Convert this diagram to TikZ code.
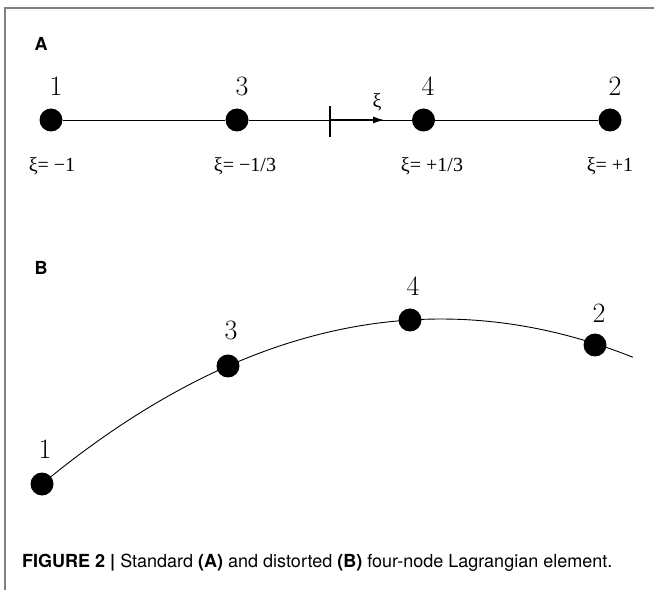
\documentclass[tikz,border=0pt]{standalone}
\usepackage{fontspec}
\setsansfont{TeX Gyre Heros}
\newfontfamily\tnr{Liberation Serif}
\usetikzlibrary{arrows.meta}
\begin{document}
\begin{tikzpicture}[x=1pt,y=1pt,
  dot/.style={circle,fill=black,inner sep=0pt,minimum size=23pt},
  num/.style={font=\fontsize{28}{30}\selectfont},
  xilab/.style={font=\fontsize{20}{22}\selectfont\tnr,anchor=base},
  panel/.style={font=\fontsize{18}{20}\selectfont\sffamily\bfseries},
  ln/.style={line width=0.9pt}]
\useasboundingbox (0,0) rectangle (654,590);
% frame
\draw[line width=1.3pt,gray] (5,0) -- (5,582) -- (654,582);
% panel A
\node[panel] (labA) at (41,546) {A};
\node[dot] (a1) at (51,470) {};
\node[dot] (a3) at (237,470) {};
\node[dot] (a4) at (423.5,470) {};
\node[dot] (a2) at (610,470) {};
\draw[ln] (a1) -- (a3) -- (a4) -- (a2);
\node[num] (t1) at (56,504) {1};
\node[num] (t3) at (242,504) {3};
\node[num] (t4) at (428,504) {4};
\node[num] (t2) at (615,504) {2};
\coordinate (tickT) at (330,484);
\coordinate (tickB) at (330,453);
\coordinate (orig) at (330,470);
\coordinate (tip) at (384,470);
\draw[line width=1.1pt] (tickT) -- (tickB);
\draw[line width=1.1pt,-{Latex[length=11pt,width=7pt]}] (orig) -- (tip);
\node[font=\fontsize{20}{22}\selectfont\tnr,anchor=base] (xi) at (377,482) {ξ};
\node[xilab] (l1) at (52,418.5) {ξ= −1};
\node[xilab] (l3) at (245,418.5) {ξ= −1/3};
\node[xilab] (l4) at (432,418.5) {ξ= +1/3};
\node[xilab] (l2) at (610,418.5) {ξ= +1};
% panel B
\node[panel] (labB) at (41,322) {B};
\coordinate (bend) at (633,232.7);
\coordinate (c1) at (239,269);
\coordinate (c2) at (436,311.2);
\coordinate (bstart) at (42,106);
\draw[ln] (bstart) .. controls (c1) and (c2) .. (bend);
\node[dot] (b1) at (42,106) {};
\node[dot] (b3) at (228,224) {};
\node[dot] (b4) at (410,270) {};
\node[dot] (b2) at (595,245) {};
\node[num] (s1) at (45,141) {1};
\node[num] (s3) at (231,260) {3};
\node[num] (s4) at (413,304) {4};
\node[num] (s2) at (599,277) {2};
% caption
\node[anchor=west,font=\fontsize{18}{20}\selectfont\sffamily,inner sep=0pt] (cap) at (22,27)
  {\textbf{FIGURE 2 |} Standard \textbf{(A)} and distorted \textbf{(B)} four-node Lagrangian element.};
\end{tikzpicture}
\end{document}
